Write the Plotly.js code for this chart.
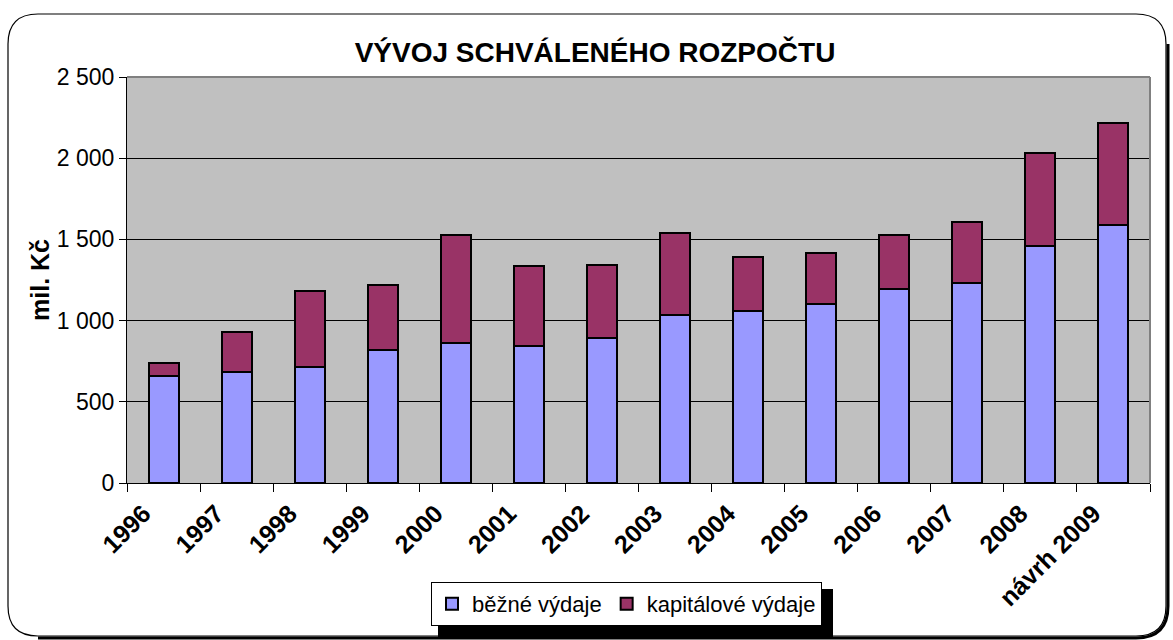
<!DOCTYPE html>
<html>
<head>
<meta charset="utf-8">
<script src="https://cdn.plot.ly/plotly-3.0.1.min.js"></script>
<style>
  html, body { margin: 0; padding: 0; background: #fff; }
  #chart { width: 1173px; height: 640px; }
</style>
</head>
<body>
<div id="chart"></div>
<script>
// ---- data ----
const categories = ['1996', '1997', '1998', '1999', '2000', '2001', '2002', '2003', '2004', '2005', '2006', '2007', '2008', 'návrh 2009'];
const bezneVydaje = [660, 685, 715, 822, 860, 845, 890, 1033, 1062, 1100, 1193, 1234, 1460, 1590];
const kapitaloveVydaje = [80, 245, 465, 400, 667, 494, 451, 506, 330, 318, 332, 371, 572, 627];
const seriesNames = ['běžné výdaje', 'kapitálové výdaje'];
const chartTitle = 'VÝVOJ SCHVÁLENÉHO ROZPOČTU';
const yTitle = 'mil. Kč';

// ---- geometry helpers (pixel -> paper) ----
const FIG_W = 1173, FIG_H = 640;
const M = { l: 127, r: 23, t: 77, b: 157 };
const PW = FIG_W - M.l - M.r, PH = FIG_H - M.t - M.b;
const px = x => (x - M.l) / PW;
const py = y => (FIG_H - M.b - y) / PH;

function roundRectPath(x0, y0, x1, y1, r) {
  return 'M' + px(x0 + r) + ',' + py(y0) +
    ' L' + px(x1 - r) + ',' + py(y0) +
    ' Q' + px(x1) + ',' + py(y0) + ' ' + px(x1) + ',' + py(y0 + r) +
    ' L' + px(x1) + ',' + py(y1 - r) +
    ' Q' + px(x1) + ',' + py(y1) + ' ' + px(x1 - r) + ',' + py(y1) +
    ' L' + px(x0 + r) + ',' + py(y1) +
    ' Q' + px(x0) + ',' + py(y1) + ' ' + px(x0) + ',' + py(y1 - r) +
    ' L' + px(x0) + ',' + py(y0 + r) +
    ' Q' + px(x0) + ',' + py(y0) + ' ' + px(x0 + r) + ',' + py(y0) + ' Z';
}
function shadowPath(x0, y0, x1, y1, r, d) {
  return 'M' + px(x1 + d) + ',' + py(y0 + r) +
    ' L' + px(x1 + d) + ',' + py(y1 - r) +
    ' Q' + px(x1 + d) + ',' + py(y1 + d) + ' ' + px(x1 - r) + ',' + py(y1 + d) +
    ' L' + px(x0 + r) + ',' + py(y1 + d);
}

const FONT = 'Arial, "Liberation Sans", sans-serif';

const traces = [
  {
    type: 'bar', name: seriesNames[0], x: categories, y: bezneVydaje,
    marker: { color: '#9999FF', line: { color: '#000000', width: 2 } }
  },
  {
    type: 'bar', name: seriesNames[1], x: categories, y: kapitaloveVydaje,
    marker: { color: '#993366', line: { color: '#000000', width: 2 } }
  }
];

const layout = {
  width: FIG_W, height: FIG_H,
  margin: M,
  barmode: 'stack',
  bargap: 0.59,
  paper_bgcolor: '#ffffff',
  plot_bgcolor: '#C0C0C0',
  font: { family: FONT, color: '#000000', size: 22 },
  title: {
    text: chartTitle,
    font: { family: FONT, size: 28, weight: 'bold', color: '#000' },
    xref: 'container', yref: 'container',
    x: 595 / FIG_W, xanchor: 'center',
    y: 1 - 52 / FIG_H, yanchor: 'middle'
  },
  xaxis: {
    type: 'category',
    tickson: 'boundaries',
    ticks: 'outside', ticklen: 8, tickcolor: '#000', tickwidth: 1,
    showline: true, linecolor: '#000', linewidth: 1,
    showgrid: false,
    tickangle: -45,
    ticklabelshift: -20,
    ticklabelstandoff: 5,
    tickfont: { family: FONT, size: 25, weight: 'bold', color: '#000' },
    fixedrange: true
  },
  yaxis: {
    range: [0, 2500], dtick: 500, tick0: 0,
    tickformat: ',d',
    ticks: 'outside', ticklen: 7, tickcolor: '#000', tickwidth: 1,
    showline: true, linecolor: '#000', linewidth: 1,
    showgrid: true, gridcolor: '#000', gridwidth: 1,
    zeroline: false,
    tickfont: { family: FONT, size: 23, color: '#000' },
    title: { text: yTitle, font: { family: FONT, size: 25, weight: 'bold', color: '#000' }, standoff: 0 },
    fixedrange: true
  },
  separators: ', ',
  showlegend: true,
  legend: {
    orientation: 'h',
    x: px(431), xanchor: 'left',
    y: py(582), yanchor: 'top',
    bgcolor: '#ffffff', bordercolor: '#000', borderwidth: 1,
    font: { family: FONT, size: 22, color: '#000' },
    traceorder: 'normal'
  },
  shapes: [
    // plot area top/right border (gray)
    { type: 'line', xref: 'paper', yref: 'paper', x0: 0, x1: 1, y0: 1, y1: 1, line: { color: '#808080', width: 2 }, layer: 'above' },
    { type: 'line', xref: 'paper', yref: 'paper', x0: 1, x1: 1, y0: 0, y1: 1, line: { color: '#808080', width: 2 }, layer: 'above' },
    // chart area frame with rounded corners
    { type: 'path', xref: 'paper', yref: 'paper', path: roundRectPath(8, 14, 1166, 636, 30), line: { color: '#000', width: 1.2 }, layer: 'above' },
    { type: 'path', xref: 'paper', yref: 'paper', path: shadowPath(8, 14, 1166, 636, 30, 2), line: { color: '#000', width: 3 }, layer: 'above' },
    // legend shadow
    { type: 'rect', xref: 'paper', yref: 'paper', x0: px(438), x1: px(833), y0: py(589), y1: py(637), fillcolor: '#000', line: { width: 0 }, layer: 'above' }
  ]
};

Plotly.newPlot('chart', traces, layout, { displayModeBar: false, staticPlot: true });
</script>
</body>
</html>
